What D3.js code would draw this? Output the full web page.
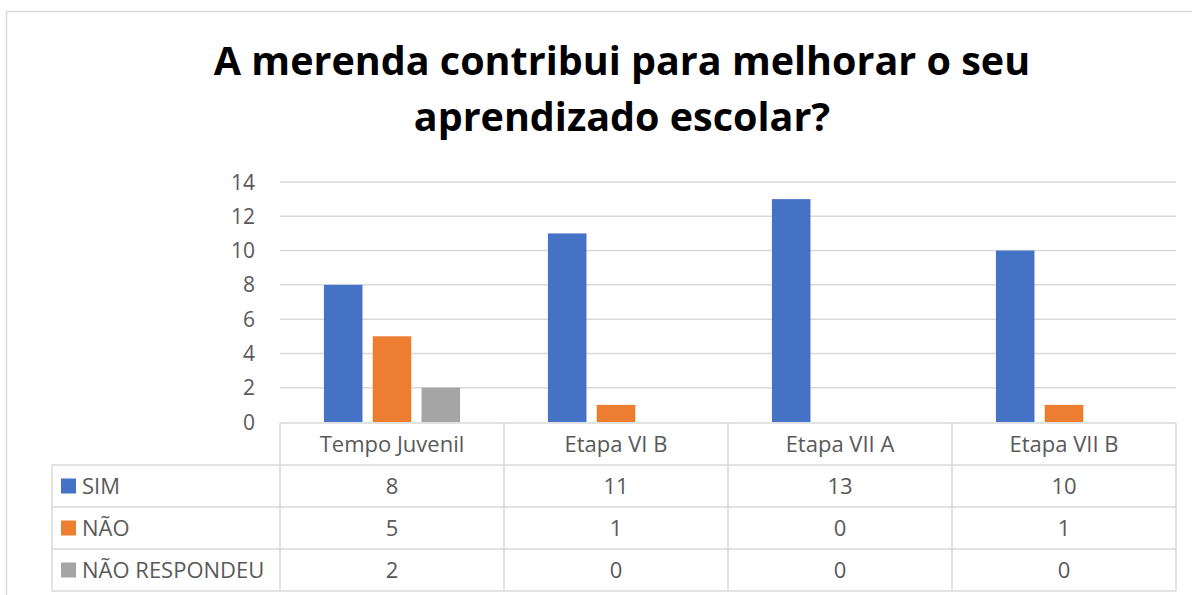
<!DOCTYPE html>
<html lang="pt">
<head>
<meta charset="UTF-8">
<title>A merenda contribui para melhorar o seu aprendizado escolar?</title>
<script src="https://d3js.org/d3.v7.min.js"></script>
<style>
  body { margin: 0; background: #fff; }
  text { font-family: "Open Sans", "Noto Sans", sans-serif; }
  .grid line { stroke: #d9d9d9; stroke-width: 1.5px; }
  .tick-label { fill: #595959; font-size: 21px; }
  .cell { fill: #595959; font-size: 22px; }
  .title { fill: #000; font-size: 39.5px; font-weight: 700; }
</style>
</head>
<body>
<svg id="chart" width="1192" height="595"></svg>
<script>
const categories = ["Tempo Juvenil", "Etapa VI B", "Etapa VII A", "Etapa VII B"];
const seriesNames = ["SIM", "NÃO", "NÃO RESPONDEU"];
const sim = [8, 11, 13, 10];
const nao = [5, 1, 0, 1];
const naoRespondeu = [2, 0, 0, 0];
const yTicks = [0, 2, 4, 6, 8, 10, 12, 14];
const colors = ["#4472C4", "#ED7D31", "#A5A5A5"];
const titleLines = ["A merenda contribui para melhorar o seu", "aprendizado escolar?"];

const series = [sim, nao, naoRespondeu];

const svg = d3.select("#chart");

// chart border
svg.append("rect")
    .attr("x", 6.5).attr("y", 11.5)
    .attr("width", 1200).attr("height", 600)
    .attr("fill", "none").attr("stroke", "#d9d9d9").attr("stroke-width", 1.5);

// title
svg.append("text")
    .attr("class", "title")
    .attr("text-anchor", "middle")
    .selectAll("tspan")
    .data(titleLines)
    .join("tspan")
    .attr("x", 622)
    .attr("y", (d, i) => 75 + i * 56)
    .text(d => d);

const plot = {left: 280, right: 1176, top: 182, bottom: 422};

const x = d3.scaleBand().domain(categories).range([plot.left, plot.right]);
const x1 = d3.scaleBand().domain(seriesNames)
    .range([0, x.bandwidth()]).paddingInner(0.21).paddingOuter(0.9);
const y = d3.scaleLinear().domain([0, 14]).range([plot.bottom, plot.top]);

// gridlines
svg.append("g").attr("class", "grid")
    .selectAll("line")
    .data(yTicks.filter(d => d > 0))
    .join("line")
    .attr("x1", plot.left).attr("x2", plot.right)
    .attr("y1", d => y(d)).attr("y2", d => y(d));

// y tick labels
svg.append("g")
    .selectAll("text")
    .data(yTicks)
    .join("text")
    .attr("class", "tick-label")
    .attr("x", 255)
    .attr("y", d => y(d))
    .attr("dy", "0.36em")
    .attr("text-anchor", "end")
    .text(d => d);

// bars
const groups = svg.append("g")
    .selectAll("g")
    .data(categories)
    .join("g")
    .attr("transform", d => `translate(${x(d)},0)`);

groups.selectAll("rect")
    .data((c, ci) => seriesNames.map((s, si) => ({s, si, v: series[si][ci]})))
    .join("rect")
    .attr("x", d => x1(d.s))
    .attr("width", x1.bandwidth())
    .attr("y", d => y(d.v))
    .attr("height", d => y(0) - y(d.v))
    .attr("fill", d => colors[d.si]);

// data table
const tableTop = 423, rowH = 42, tableLeft = 52;
const tableBottom = tableTop + rowH * 4;
const tbl = svg.append("g").attr("stroke", "#d9d9d9").attr("stroke-width", 1.5);

// top line (category header only) and row lines
tbl.append("line").attr("x1", plot.left).attr("x2", plot.right)
    .attr("y1", tableTop).attr("y2", tableTop);
[1, 2, 3, 4].forEach(i => {
  tbl.append("line")
      .attr("x1", tableLeft).attr("x2", plot.right)
      .attr("y1", tableTop + rowH * i).attr("y2", tableTop + rowH * i);
});
// vertical lines
tbl.append("line").attr("x1", tableLeft).attr("x2", tableLeft)
    .attr("y1", tableTop + rowH).attr("y2", tableBottom);
categories.map(c => x(c)).concat([plot.right]).forEach(xx => {
  tbl.append("line").attr("x1", xx).attr("x2", xx)
      .attr("y1", tableTop).attr("y2", tableBottom);
});

// header labels
svg.append("g")
    .selectAll("text")
    .data(categories)
    .join("text")
    .attr("class", "cell")
    .attr("x", d => x(d) + x.bandwidth() / 2)
    .attr("y", tableTop + rowH / 2)
    .attr("dy", "0.36em")
    .attr("text-anchor", "middle")
    .text(d => d);

// series rows
seriesNames.forEach((s, si) => {
  const top = tableTop + rowH * (si + 1);
  svg.append("rect")
      .attr("x", 61).attr("y", top + rowH / 2 - 7.5)
      .attr("width", 15).attr("height", 15)
      .attr("fill", colors[si]);
  svg.append("text")
      .attr("class", "cell")
      .attr("x", 82).attr("y", top + rowH / 2).attr("dy", "0.36em")
      .text(s);
  categories.forEach((c, ci) => {
    svg.append("text")
        .attr("class", "cell")
        .attr("x", x(c) + x.bandwidth() / 2)
        .attr("y", top + rowH / 2).attr("dy", "0.36em")
        .attr("text-anchor", "middle")
        .text(series[si][ci]);
  });
});
</script>
</body>
</html>
